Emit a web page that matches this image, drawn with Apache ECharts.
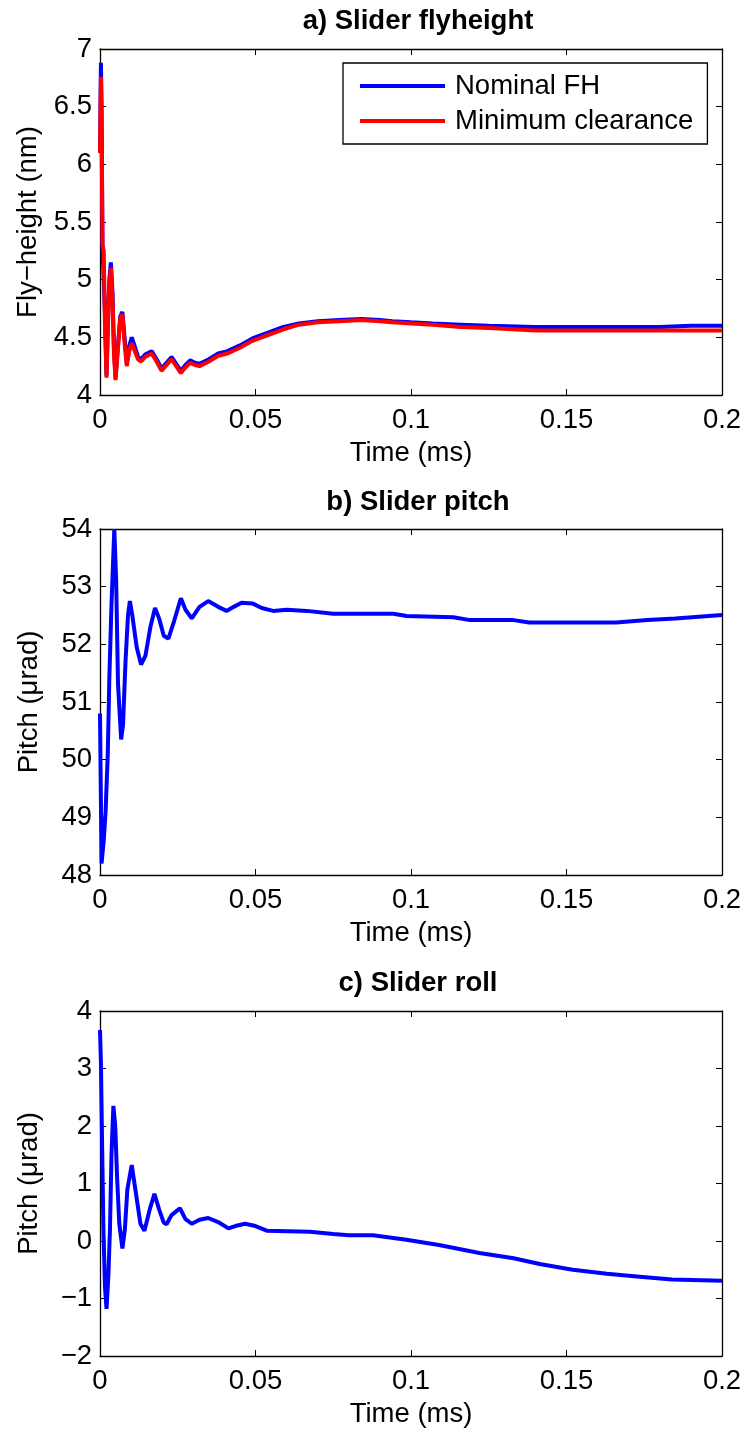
<!DOCTYPE html>
<html>
<head>
<meta charset="utf-8">
<script src="https://cdn.jsdelivr.net/npm/echarts@6/dist/echarts.min.js"></script>
<style>
html,body{margin:0;padding:0;background:#fff;}
#chart{width:746px;height:1432px;}
</style>
</head>
<body>
<div id="chart"></div>
<script>
// ---------- DATA ----------
const titles = ['a) Slider flyheight', 'b) Slider pitch', 'c) Slider roll'];
const seriesNames = ['Nominal FH', 'Minimum clearance'];

const fhTime = [0, 0.0003, 0.0005, 0.0008, 0.0012, 0.0016, 0.0021, 0.0025, 0.0030, 0.0035, 0.0040, 0.0045, 0.0050, 0.0057, 0.0065, 0.0072, 0.0079, 0.0086, 0.0094, 0.0102, 0.0112, 0.0122, 0.0132, 0.0145, 0.0166, 0.0182, 0.0198, 0.0214, 0.0230, 0.0245, 0.0260, 0.0275, 0.029, 0.0305, 0.032, 0.035, 0.038, 0.041, 0.045, 0.049, 0.054, 0.059, 0.064, 0.070, 0.077, 0.084, 0.090, 0.094, 0.100, 0.107, 0.116, 0.125, 0.140, 0.160, 0.180, 0.190, 0.200];
const fhNominal = [6.1, 6.88, 6.5, 5.3, 5.3, 4.7, 4.17, 4.6, 5.0, 5.15, 4.9, 4.4, 4.15, 4.4, 4.68, 4.72, 4.5, 4.28, 4.42, 4.50, 4.42, 4.33, 4.31, 4.35, 4.38, 4.31, 4.23, 4.28, 4.33, 4.27, 4.21, 4.26, 4.30, 4.28, 4.27, 4.31, 4.36, 4.38, 4.43, 4.49, 4.54, 4.59, 4.62, 4.64, 4.65, 4.66, 4.65, 4.64, 4.63, 4.62, 4.61, 4.60, 4.59, 4.59, 4.59, 4.60, 4.60];
const fhMinClear = [6.1, 6.76, 6.4, 5.3, 5.25, 4.6, 4.15, 4.55, 4.95, 5.1, 4.85, 4.35, 4.13, 4.38, 4.66, 4.70, 4.45, 4.25, 4.38, 4.45, 4.38, 4.31, 4.29, 4.33, 4.36, 4.29, 4.21, 4.26, 4.31, 4.25, 4.19, 4.24, 4.28, 4.26, 4.25, 4.29, 4.34, 4.36, 4.41, 4.47, 4.52, 4.57, 4.61, 4.63, 4.64, 4.65, 4.64, 4.63, 4.62, 4.61, 4.59, 4.58, 4.56, 4.56, 4.56, 4.56, 4.56];

const pitchTime = [0, 0.0005, 0.0012, 0.0018, 0.0025, 0.0030, 0.0037, 0.0046, 0.0052, 0.0058, 0.0068, 0.0074, 0.0082, 0.0090, 0.0096, 0.0104, 0.0118, 0.0132, 0.0146, 0.0162, 0.0177, 0.0190, 0.0205, 0.0220, 0.0238, 0.0260, 0.0275, 0.0295, 0.0320, 0.0348, 0.0380, 0.0407, 0.0430, 0.0455, 0.0490, 0.0520, 0.0557, 0.0600, 0.0665, 0.0750, 0.0943, 0.0986, 0.1136, 0.1190, 0.1330, 0.1380, 0.1660, 0.1760, 0.1850, 0.2000];
const pitchVals = [50.8, 48.2, 48.6, 49.1, 50.1, 51.4, 52.7, 54.0, 53.1, 51.3, 50.35, 50.6, 51.7, 52.5, 52.75, 52.5, 51.95, 51.65, 51.8, 52.3, 52.63, 52.45, 52.15, 52.1, 52.4, 52.8, 52.6, 52.45, 52.65, 52.75, 52.65, 52.58, 52.65, 52.72, 52.71, 52.63, 52.58, 52.6, 52.58, 52.53, 52.53, 52.49, 52.47, 52.42, 52.42, 52.38, 52.38, 52.42, 52.45, 52.51];

const rollTime = [0, 0.0003, 0.0007, 0.0011, 0.0016, 0.0021, 0.0027, 0.0032, 0.0037, 0.0043, 0.0049, 0.0055, 0.0062, 0.0072, 0.0080, 0.0088, 0.0102, 0.0115, 0.0130, 0.0143, 0.0160, 0.0175, 0.0190, 0.0205, 0.0214, 0.0230, 0.0257, 0.0275, 0.0295, 0.0320, 0.0348, 0.0380, 0.0413, 0.0435, 0.0466, 0.0500, 0.0536, 0.0675, 0.0750, 0.0800, 0.0878, 0.0985, 0.1090, 0.1220, 0.1330, 0.1414, 0.1520, 0.1630, 0.1735, 0.1840, 0.2000];
const rollVals = [3.67, 3.1, 1.6, 0.2, -0.8, -1.18, -0.6, 0.2, 1.5, 2.35, 2.0, 1.1, 0.3, -0.13, 0.2, 0.9, 1.32, 0.85, 0.3, 0.18, 0.55, 0.82, 0.55, 0.32, 0.29, 0.45, 0.57, 0.38, 0.30, 0.37, 0.40, 0.33, 0.22, 0.26, 0.30, 0.26, 0.18, 0.16, 0.12, 0.10, 0.10, 0.02, -0.07, -0.21, -0.30, -0.40, -0.50, -0.57, -0.62, -0.67, -0.69];

const yLabels = ['Fly\u2212height (nm)', 'Pitch (\u03bcrad)', 'Pitch (\u03bcrad)'];
const yRanges = [[4, 7, 0.5], [48, 54, 1], [-2, 4, 1]];
const xRange = [0, 0.2, 0.05];
const xLabel = 'Time (ms)';

// ---------- LAYOUT ----------
const FONT = 'Liberation Sans, Arial, Helvetica, sans-serif';
const FS = 27.5;
const grids = [
  {left: 100, top: 49, width: 622, height: 346},
  {left: 100, top: 529, width: 622, height: 346},
  {left: 100, top: 1011, width: 622, height: 345}
];
const titleY = [21, 502, 983];

const pair = (xs, ys) => xs.map((x, i) => [x, ys[i]]);
const fmtNum = v => String(+v.toFixed(4)).replace('-', '\u2212');

const xAxes = [], yAxes = [];
grids.forEach((g, i) => {
  const common = {
    gridIndex: i, type: 'value',
    axisLine: {show: true, onZero: false, lineStyle: {color: '#000', width: 1.3}},
    axisTick: {show: true, inside: true, length: 6, lineStyle: {color: '#000', width: 1}},
    splitLine: {show: false}
  };
  xAxes.push(Object.assign({}, common, {
    position: 'bottom', min: xRange[0], max: xRange[1], interval: xRange[2],
    axisLabel: {color: '#000', fontSize: FS, fontFamily: FONT, margin: 11, formatter: fmtNum},
    name: xLabel, nameLocation: 'middle', nameGap: 44,
    nameTextStyle: {color: '#000', fontSize: FS, fontFamily: FONT}
  }));
  xAxes.push(Object.assign({}, common, {
    position: 'top', min: xRange[0], max: xRange[1], interval: xRange[2],
    axisLabel: {show: false}
  }));
  const r = yRanges[i];
  yAxes.push(Object.assign({}, common, {
    position: 'left', min: r[0], max: r[1], interval: r[2],
    axisLabel: {color: '#000', fontSize: FS, fontFamily: FONT, margin: 8, formatter: fmtNum},
    name: yLabels[i], nameLocation: 'middle', nameGap: 57, nameRotate: 90,
    nameTextStyle: {color: '#000', fontSize: FS, fontFamily: FONT}
  }));
  yAxes.push(Object.assign({}, common, {
    position: 'right', min: r[0], max: r[1], interval: r[2],
    axisLabel: {show: false}
  }));
});

const lineSeries = (name, data, color, gi) => ({
  name, type: 'line', data, xAxisIndex: gi * 2, yAxisIndex: gi * 2,
  symbol: 'none', smooth: false, animation: false,
  lineStyle: {color, width: 4}, itemStyle: {color}
});

const option = {
  backgroundColor: '#fff',
  animation: false,
  grid: grids,
  xAxis: xAxes,
  yAxis: yAxes,
  legend: {
    data: seriesNames,
    icon: 'rect',
    orient: 'vertical',
    left: 343, top: 63,
    padding: [8, 14, 8, 17],
    itemWidth: 85, itemHeight: 4, itemGap: 5,
    borderColor: '#000', borderWidth: 1.3,
    backgroundColor: '#fff',
    textStyle: {color: '#000', fontSize: FS, fontFamily: FONT, lineHeight: 30, padding: [0, 0, 0, 5]}
  },
  graphic: titles.map((t, i) => ({
    type: 'text', x: 418, y: titleY[i],
    style: {text: t, fill: '#000', font: 'bold ' + FS + 'px ' + FONT, textAlign: 'center', textVerticalAlign: 'middle'}
  })),
  series: [
    lineSeries(seriesNames[0], pair(fhTime, fhNominal), '#0000ff', 0),
    lineSeries(seriesNames[1], pair(fhTime, fhMinClear), '#ff0000', 0),
    lineSeries('pitch', pair(pitchTime, pitchVals), '#0000ff', 1),
    lineSeries('roll', pair(rollTime, rollVals), '#0000ff', 2)
  ]
};

const chart = echarts.init(document.getElementById('chart'), null, {renderer: 'canvas'});
chart.setOption(option);
</script>
</body>
</html>
